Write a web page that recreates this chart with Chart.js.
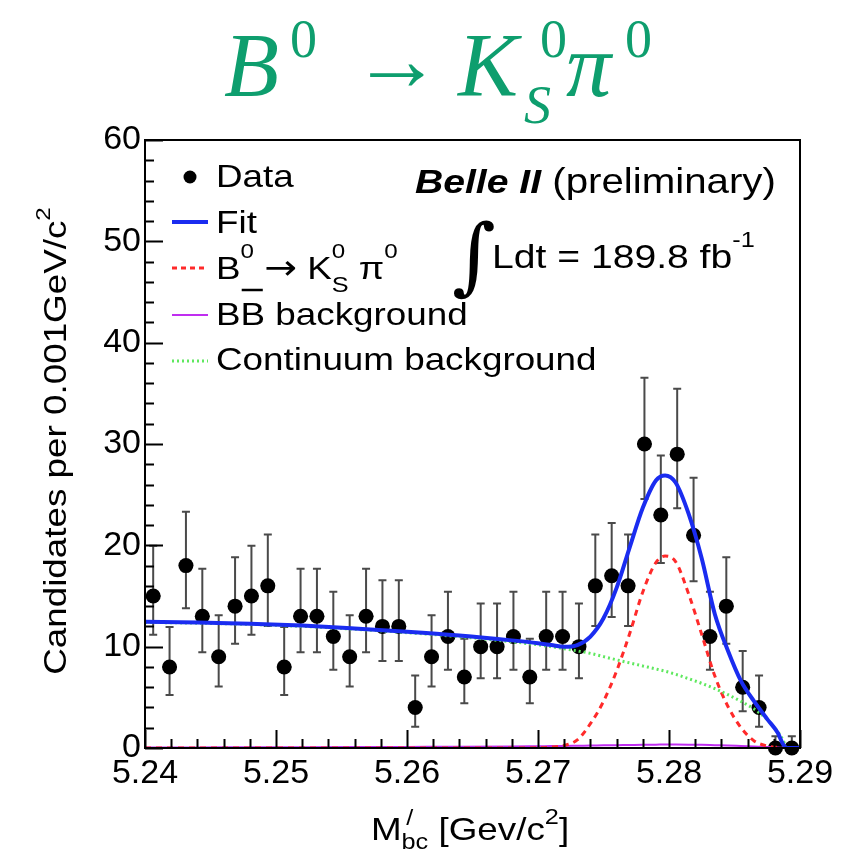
<!DOCTYPE html>
<html>
<head>
<meta charset="utf-8">
<script src="https://cdn.jsdelivr.net/npm/chart.js@4.4.1/dist/chart.umd.min.js"></script>
<style>
  html, body { margin: 0; padding: 0; background: #fff; }
  #wrap { position: relative; width: 851px; height: 850px; overflow: hidden; }
  #chart { position: absolute; left: 0; top: 0; }
  #title {
    position: absolute; left: 0; top: 0; width: 851px; height: 135px;
    font-family: 'Liberation Serif', 'Times New Roman', serif; color: #0e9e6e;
  }
  #title span { position: absolute; line-height: 1; white-space: nowrap; }
  #title .big { font-size: 90px; font-style: italic; top: 21px; }
  #title .sup { font-size: 54px; top: 12px; }
  #title .sub { font-size: 54px; font-style: italic; top: 78px; }
  #title .arr { font-size: 90px; top: 15px; }
</style>
</head>
<body>
<div id="wrap">
  <canvas id="chart" width="851" height="850"></canvas>
  <div id="title"><span class="big" style="left:224px">B</span><span class="sup" style="left:290px">0</span><span class="arr" style="left:352px">→</span><span class="big" style="left:458px">K</span><span class="sup" style="left:540px">0</span><span class="sub" style="left:524px">S</span><span class="big" style="left:566px">π</span><span class="sup" style="left:625px">0</span></div>
</div>
<script>
// ---- data ----
const binWidth = 0.00125;
const binCenters = [5.240625, 5.241875, 5.243125, 5.244375, 5.245625, 5.246875, 5.248125, 5.249375,
  5.250625, 5.251875, 5.253125, 5.254375, 5.255625, 5.256875, 5.258125, 5.259375,
  5.260625, 5.261875, 5.263125, 5.264375, 5.265625, 5.266875, 5.268125, 5.269375,
  5.270625, 5.271875, 5.273125, 5.274375, 5.275625, 5.276875, 5.278125, 5.279375,
  5.280625, 5.281875, 5.283125, 5.284375, 5.285625, 5.286875, 5.288125, 5.289375];
const counts = [15, 8, 18, 13, 9, 14, 15, 16, 8, 13, 13, 11, 9, 13, 12, 12, 4, 9, 11, 7,
  10, 10, 11, 7, 11, 11, 10, 16, 17, 16, 30, 23, 29, 21, 11, 14, 6, 4, 0, 0];
// lower / upper ends of the error bars
const errLo = [11.17, 5.23, 13.80, 9.44, 6.06, 10.30, 11.17, 12.04, 5.23, 9.44, 9.44, 7.73, 6.06, 9.44, 8.58, 8.58, 2.09, 6.06, 7.73, 4.42,
  6.89, 6.89, 7.73, 4.42, 7.73, 7.73, 6.89, 12.04, 12.92, 12.04, 24.58, 18.26, 23.67, 16.46, 7.73, 10.30, 3.62, 2.09, 0, 0];
const errHi = [19.96, 11.95, 23.32, 17.70, 13.11, 18.83, 19.96, 21.08, 11.95, 17.70, 17.70, 15.42, 13.11, 17.70, 16.56, 16.56, 7.16, 13.11, 15.42, 10.77,
  14.27, 14.27, 15.42, 10.77, 15.42, 15.42, 14.27, 21.08, 22.20, 21.08, 36.53, 28.87, 35.44, 26.66, 15.42, 18.83, 9.58, 7.16, 1.15, 1.15];

// fit curves, sampled at curveX
const curveX = [5.240, 5.244, 5.248, 5.252, 5.256, 5.260, 5.264, 5.268, 5.270, 5.271, 5.272, 5.273, 5.274, 5.275,
  5.276, 5.277, 5.278, 5.279, 5.2797, 5.2805, 5.2815, 5.2825, 5.2835, 5.2845, 5.2855, 5.2865, 5.2875, 5.2883, 5.2887, 5.289, 5.290];
const fitY = [12.45, 12.38, 12.27, 12.08, 11.80, 11.48, 11.10, 10.62, 10.34, 10.16, 9.98, 10.15, 11.0, 12.8,
  15.8, 19.8, 23.7, 26.4, 26.9, 26.2, 23.1, 18.7, 13.2, 9.6, 6.6, 4.6, 2.85, 1.5, 0.4, 0, 0];
const signalY = [0, 0, 0, 0, 0, 0, 0, 0, 0.02, 0.08, 0.25, 0.8, 2.4, 4.6,
  7.6, 11.3, 15.4, 18.3, 18.95, 18.4, 15.2, 11.2, 7.1, 4.1, 2.0, 0.7, 0.2, 0.06, 0.03, 0, 0];
const bbY = [0.05, 0.06, 0.07, 0.08, 0.09, 0.11, 0.13, 0.16, 0.18, 0.19, 0.20, 0.22, 0.24, 0.26,
  0.28, 0.30, 0.32, 0.33, 0.34, 0.34, 0.33, 0.31, 0.28, 0.25, 0.20, 0.15, 0.10, 0.05, 0.02, 0, 0];
const contY = [12.40, 12.32, 12.20, 12.00, 11.72, 11.38, 10.98, 10.48, 10.18, 10.00, 9.80, 9.58, 9.34, 9.02,
  8.70, 8.40, 8.10, 7.80, 7.58, 7.28, 6.84, 6.38, 5.86, 5.26, 4.60, 3.84, 2.80, 1.60, 0.80, 0, 0];

const SANS = "'Liberation Sans', Arial, Helvetica, sans-serif";
const STRETCH = 1.15;
const BLUE = '#1a2cf0', RED = '#ff2a2a', MAGENTA = '#c02ef0', GREEN = '#5fe85f';

function pts(xs, ys) { return xs.map((x, i) => ({ x: x, y: ys[i] })); }

// text with sub/superscripts, stretched wide like the original ROOT text
function drawRich(ctx, x, y, parts, align) {
  let w = 0;
  parts.forEach(p => {
    ctx.font = (p.style || '') + ' ' + (p.size || 32) + 'px ' + (p.family || SANS);
    p._w = ctx.measureText(p.t).width;
    if (p.adv !== false) w += p._w;
  });
  ctx.save();
  ctx.translate(x, y);
  ctx.scale(STRETCH, 1);
  ctx.fillStyle = '#000';
  ctx.strokeStyle = '#000';
  ctx.textBaseline = 'alphabetic';
  ctx.textAlign = 'left';
  let cx = align === 'center' ? -w / 2 : 0;
  parts.forEach(p => {
    ctx.font = (p.style || '') + ' ' + (p.size || 32) + 'px ' + (p.family || SANS);
    ctx.fillText(p.t, cx + (p.dx || 0), p.dy || 0);
    if (p.over !== undefined) {
      ctx.lineWidth = 2.5;
      ctx.beginPath();
      ctx.moveTo(cx + 1, p.over);
      ctx.lineTo(cx + p._w - 2, p.over);
      ctx.stroke();
    }
    if (p.adv !== false) cx += p._w;
  });
  ctx.restore();
}

const decorPlugin = {
  id: 'decor',
  beforeDatasetsDraw(chart) {
    const ctx = chart.ctx, xs = chart.scales.x, ys = chart.scales.y;
    ctx.save();
    ctx.strokeStyle = '#4a4a4a';
    ctx.lineWidth = 2;
    binCenters.forEach((c, i) => {
      const px = xs.getPixelForValue(c);
      const py = ys.getPixelForValue(counts[i]);
      const top = ys.getPixelForValue(errHi[i]);
      const bot = ys.getPixelForValue(errLo[i]);
      ctx.beginPath();
      ctx.moveTo(px, top); ctx.lineTo(px, bot);
      ctx.moveTo(px - 4, top); ctx.lineTo(px + 4, top);
      if (errLo[i] > 0) { ctx.moveTo(px - 4, bot); ctx.lineTo(px + 4, bot); }
      ctx.moveTo(xs.getPixelForValue(c - binWidth / 2) + 1, py);
      ctx.lineTo(xs.getPixelForValue(c + binWidth / 2) - 1, py);
      ctx.stroke();
    });
    ctx.restore();
  },
  afterDraw(chart) {
    const ctx = chart.ctx, a = chart.chartArea, xs = chart.scales.x, ys = chart.scales.y;
    ctx.save();
    // frame
    ctx.strokeStyle = '#000';
    ctx.lineWidth = 2;
    ctx.strokeRect(a.left, a.top, a.right - a.left, a.bottom - a.top);
    // inward ticks
    ctx.beginPath();
    for (let v = 0; v <= 60; v += 2) {
      const py = Math.round(ys.getPixelForValue(v)) + 0.5;
      const len = v % 10 === 0 ? 18 : 9;
      ctx.moveTo(a.left, py); ctx.lineTo(a.left + len, py);
    }
    for (let k = 0; k <= 25; k++) {
      const px = Math.round(xs.getPixelForValue(5.24 + k * 0.002)) + 0.5;
      const len = k % 5 === 0 ? 18 : 9;
      ctx.moveTo(px, a.bottom); ctx.lineTo(px, a.bottom - len);
    }
    ctx.stroke();

    // axis titles
    ctx.save();
    ctx.translate(66, 441);
    ctx.rotate(-Math.PI / 2);
    drawRich(ctx, 0, 0, [
      { t: 'Candidates per 0.001GeV/c' },
      { t: '2', size: 21, dy: -16 }
    ], 'center');
    ctx.restore();
    drawRich(ctx, 470, 840, [
      { t: 'M' },
      { t: '/', size: 22, dy: -15, dx: 4, adv: false },
      { t: 'bc', size: 22, dy: 9 },
      { t: ' [Gev/c' },
      { t: '2', size: 22, dy: -16 },
      { t: ']' }
    ], 'center');

    // legend
    ctx.fillStyle = '#000';
    ctx.beginPath();
    ctx.arc(190, 177, 6.5, 0, Math.PI * 2);
    ctx.fill();
    drawRich(ctx, 216, 187, [{ t: 'Data' }]);

    const sample = (y, color, width, dash) => {
      ctx.save();
      ctx.strokeStyle = color; ctx.lineWidth = width; ctx.setLineDash(dash);
      ctx.beginPath(); ctx.moveTo(172, y); ctx.lineTo(208, y); ctx.stroke();
      ctx.restore();
    };
    sample(222, BLUE, 4, []);
    drawRich(ctx, 216, 233, [{ t: 'Fit' }]);
    sample(268, RED, 3, [5, 4]);
    drawRich(ctx, 216, 279, [
      { t: 'B' }, { t: '0', size: 21, dy: -21 },
      { t: ' ' }, { t: '\u2192', family: "'DejaVu Sans', sans-serif", size: 34 }, { t: ' K' },
      { t: '0', size: 21, dy: -21, adv: false }, { t: 'S', size: 22, dy: 13 },
      { t: ' \u03c0' }, { t: '0', size: 21, dy: -21 }
    ]);
    sample(315, MAGENTA, 2, []);
    drawRich(ctx, 216, 325, [{ t: 'B' }, { t: 'B', over: -35 }, { t: ' background' }]);
    sample(361, GREEN, 3, [2, 3]);
    drawRich(ctx, 216, 370, [{ t: 'Continuum background' }]);

    // experiment labels
    drawRich(ctx, 415, 193, [
      { t: 'Belle II', style: 'italic bold', size: 34 },
      { t: ' (preliminary)', size: 35 }
    ]);
    ctx.save();
    ctx.font = '84px "DejaVu Serif", serif';
    ctx.fillStyle = '#000';
    ctx.fillText('\u222b', 452, 284);
    ctx.restore();
    drawRich(ctx, 492, 268, [
      { t: 'Ldt = 189.8 fb', size: 34 },
      { t: '-1', size: 22, dy: -21 }
    ]);
    ctx.restore();
  }
};

new Chart(document.getElementById('chart'), {
  type: 'scatter',
  data: {
    datasets: [
      { label: 'Fit', data: pts(curveX, fitY), showLine: true, borderColor: BLUE, borderWidth: 4,
        pointRadius: 0, cubicInterpolationMode: 'monotone', order: 0 },
      { label: 'Continuum background', data: pts(curveX, contY), showLine: true, borderColor: GREEN, borderWidth: 3,
        borderDash: [2, 3], pointRadius: 0, cubicInterpolationMode: 'monotone', order: 1 },
      { label: 'B0 -> K0S pi0', data: pts(curveX, signalY), showLine: true, borderColor: RED, borderWidth: 3,
        borderDash: [6, 5], pointRadius: 0, cubicInterpolationMode: 'monotone', order: 2 },
      { label: 'BB background', data: pts(curveX, bbY), showLine: true, borderColor: MAGENTA, borderWidth: 2,
        pointRadius: 0, cubicInterpolationMode: 'monotone', order: 3 },
      { label: 'Data', data: pts(binCenters, counts), pointRadius: 7.5, pointBackgroundColor: '#000',
        pointBorderWidth: 0, clip: false, order: 4 }
    ]
  },
  options: {
    responsive: false,
    animation: false,
    devicePixelRatio: 1,
    events: [],
    layout: { padding: { top: 140, right: 51, left: 0, bottom: 0 } },
    plugins: { legend: { display: false }, tooltip: { enabled: false } },
    scales: {
      x: {
        type: 'linear', min: 5.24, max: 5.29,
        grid: { display: false, drawTicks: false }, border: { display: false },
        ticks: { stepSize: 0.01, autoSkip: false, maxRotation: 0, padding: 5, color: '#000',
          font: { family: SANS, size: 34 }, callback: v => v.toFixed(2) },
        afterFit: s => { s.height = 102; s.paddingLeft = 0; s.paddingRight = 0; }
      },
      y: {
        min: 0, max: 60,
        grid: { display: false, drawTicks: false }, border: { display: false },
        ticks: { stepSize: 10, padding: 4, color: '#000', font: { family: SANS, size: 34 } },
        afterFit: s => { s.width = 145; s.paddingTop = 0; s.paddingBottom = 0; }
      }
    }
  },
  plugins: [decorPlugin]
});
</script>
</body>
</html>
